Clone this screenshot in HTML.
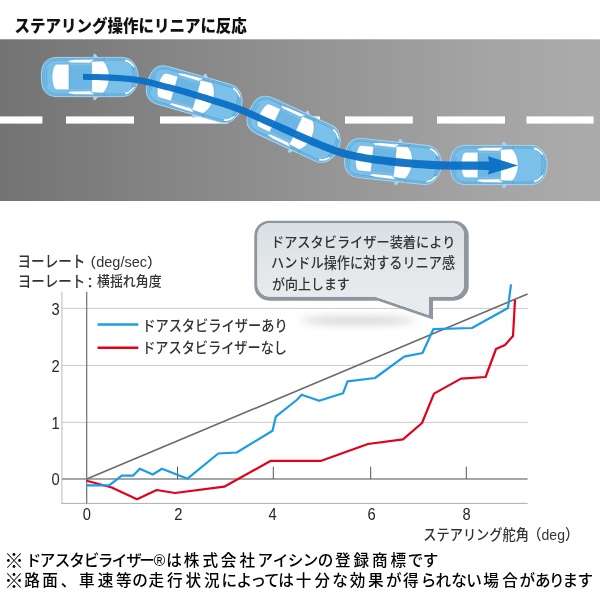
<!DOCTYPE html>
<html lang="ja"><head><meta charset="utf-8"><title>ステアリング操作にリニアに反応</title>
<style>
html,body{margin:0;padding:0;background:#fff;}
body{width:600px;height:600px;overflow:hidden;}
svg{display:block;}
text{font-family:"Liberation Sans","Noto Sans CJK JP",sans-serif;}
.g{fill:#333;}
</style></head><body>
<svg width="600" height="600" viewBox="0 0 600 600">
<defs>
<linearGradient id="road" x1="0" x2="1" y1="0" y2="0">
<stop offset="0" stop-color="#737373"/><stop offset="0.3" stop-color="#868686"/><stop offset="0.5" stop-color="#929292"/><stop offset="0.8" stop-color="#a4a4a4"/><stop offset="1" stop-color="#ababab"/>
</linearGradient>
<linearGradient id="bub" gradientUnits="userSpaceOnUse" x1="0" x2="0" y1="223" y2="297">
<stop offset="0" stop-color="#d9dfe3"/><stop offset="0.5" stop-color="#e2e6e9"/><stop offset="1" stop-color="#e8ebee"/>
</linearGradient>
<linearGradient id="bubR" gradientUnits="userSpaceOnUse" x1="257" x2="464" y1="0" y2="0">
<stop offset="0" stop-color="#b9c1c7"/><stop offset="0.2" stop-color="#d3d8dc"/><stop offset="0.42" stop-color="#f7f8f9"/><stop offset="0.8" stop-color="#ffffff"/><stop offset="1" stop-color="#eef0f2"/>
</linearGradient>
<clipPath id="bclip"><path d="M269.500 223.200H452A12 12 0 0 1 464 235.200V284.500A12 12 0 0 1 452 296.500H429V315L374.900 296.500H269.500A12 12 0 0 1 257.500 284.500V235.200A12 12 0 0 1 269.500 223.200Z"/></clipPath>
<linearGradient id="bubL" gradientUnits="userSpaceOnUse" x1="257.5" x2="266" y1="0" y2="0">
<stop offset="0" stop-color="#a3adb4"/><stop offset="0.55" stop-color="#b9c1c6" stop-opacity="0.8"/><stop offset="1" stop-color="#dfe3e6" stop-opacity="0"/>
</linearGradient>
<linearGradient id="bubT" gradientUnits="userSpaceOnUse" x1="0" x2="0" y1="223.2" y2="227">
<stop offset="0" stop-color="#aab3ba" stop-opacity="0.9"/><stop offset="1" stop-color="#dfe3e6" stop-opacity="0"/>
</linearGradient>
<filter id="blur" x="-20%" y="-100%" width="140%" height="300%"><feGaussianBlur stdDeviation="4"/></filter>
<g id="car">
<path d="M-48.4 0C-48.4 -5 -48 -8 -46.800 -11C-44.500 -17 -39.500 -19.600 -32 -19.600L32 -19.600C37 -19.600 40.500 -18 43.500 -14.500C46.800 -10.500 48.400 -5.500 48.400 0C48.400 5.500 46.800 10.500 43.500 14.500C40.500 18 37 19.600 32 19.600L-32 19.600C-39.500 19.600 -44.500 17 -46.800 11C-48 8 -48.400 5 -48.400 0Z" fill="#7bc0e8" stroke="#aedaf3" stroke-width="0.9"/>
<path d="M-47.300 0C-47.300 -5 -46.900 -7.800 -45.800 -10.600C-43.600 -16.200 -39 -18.600 -32 -18.600L31.800 -18.600C36.600 -18.600 39.900 -17.100 42.700 -13.800C45.800 -10 47.300 -5.300 47.300 0C47.300 5.300 45.800 10 42.700 13.800C39.900 17.100 36.600 18.600 31.800 18.600L-32 18.600C-39 18.600 -43.600 16.200 -45.800 10.600C-46.900 7.800 -47.300 5 -47.300 0Z" fill="none" stroke="#4d9bd0" stroke-width="0.45"/>
<path d="M3.8 -19.400L3.400 -22.400L5.600 -23.200L8.600 -19.400Z M3.800 19.400L3.400 22.400L5.600 23.200L8.600 19.400Z" fill="#a4d5f1"/>
<path d="M-45.500 0C-45.500 -4.500 -45.100 -7 -44 -9.600C-42 -14.800 -38 -17 -31.500 -17L31 -17C35.500 -17 38.500 -15.600 41.200 -12.600C44 -9.300 45.500 -5 45.500 0C45.500 5 44 9.300 41.200 12.600C38.500 15.600 35.500 17 31 17L-31.500 17C-38 17 -42 14.800 -44 9.600C-45.100 7 -45.500 4.500 -45.500 0Z" fill="none" stroke="#3f90c9" stroke-width="0.5"/>
<rect x="-21" y="-11.900" width="23.500" height="23.800" fill="#6db6e4"/>
<path d="M-20.800 -12.800L-32.500 -12.800Q-35.500 -12.500 -36.300 -9C-38.200 -3 -38.200 3 -36.300 9Q-35.500 12.500 -32.500 12.800L-20.800 12.800Z" fill="#fff" stroke="#4a97cd" stroke-width="0.4"/>
<path d="M2 -12.500L1.300 -15.500L13.500 -16C21.400 -8 21.400 8 13.500 16L1.300 15.500L2 12.500Z" fill="#fff" stroke="#4a97cd" stroke-width="0.4"/>
<path d="M-23 -16.300L-15 -17.400L5 -17.800L2 -15.600L0.500 -14L-19 -14.200Z M-23 16.300L-15 17.400L5 17.800L2 15.600L0.500 14L-19 14.200Z" fill="#fff" stroke="#4a97cd" stroke-width="0.4"/>
<path d="M35.500 -17.400C40 -16.500 43.300 -13.500 45 -9.800L42.600 -10.500C41.300 -13 38.800 -15 35.500 -15.600Z M35.500 17.400C40 16.500 43.300 13.500 45 9.800L42.600 10.500C41.300 13 38.800 15 35.500 15.600Z" fill="#fff"/>
<path d="M14.700 -19.500C14.600 -18.500 14.300 -17 13.800 -16 M14.700 19.500C14.600 18.500 14.300 17 13.800 16 M42.300 -11.500C43.500 -5 43.500 5 42.300 11.500 M-42.500 -8C-43.600 -3 -43.600 3 -42.500 8" fill="none" stroke="#3f90c9" stroke-width="0.5"/>
</g>
</defs>
<text transform="translate(14.54 32.35) scale(0.9269 1)" font-size="16.72" font-weight="900" fill="#111">ステアリング操作にリニアに反応</text>
<rect x="0" y="39.3" width="600" height="161.7" fill="url(#road)"/>
<rect x="-30" y="116.4" width="72.4" height="7.2" fill="#fff"/>
<rect x="66" y="116.4" width="68.0" height="7.2" fill="#fff"/>
<rect x="160" y="116.4" width="68.0" height="7.2" fill="#fff"/>
<rect x="252" y="116.4" width="68.0" height="7.2" fill="#fff"/>
<rect x="345" y="116.4" width="67.8" height="7.2" fill="#fff"/>
<rect x="437" y="116.4" width="68.0" height="7.2" fill="#fff"/>
<rect x="526.5" y="116.4" width="67.1" height="7.2" fill="#fff"/>
<use href="#car" transform="translate(89.75 77) rotate(0)"/>
<use href="#car" transform="translate(194.5 94.5) rotate(16)"/>
<use href="#car" transform="translate(294 129.5) rotate(25)"/>
<use href="#car" transform="translate(393 161.5) rotate(6)"/>
<use href="#car" transform="translate(498.7 165) rotate(0)"/>
<path d="M83.0 73.8 L87.6 73.9 L92.2 74.0 L96.8 74.1 L101.4 74.2 L105.9 74.3 L110.5 74.5 L115.1 74.8 L119.7 75.1 L124.3 75.4 L128.9 75.8 L133.6 76.3 L138.2 76.9 L142.9 77.7 L147.6 78.7 L152.2 79.8 L156.8 81.0 L161.4 82.2 L165.9 83.4 L170.5 84.5 L175.1 85.7 L179.7 86.9 L184.3 88.2 L188.9 89.5 L193.5 90.9 L198.0 92.3 L202.6 93.7 L207.2 95.1 L211.7 96.5 L216.3 97.9 L220.9 99.3 L225.5 100.7 L230.1 102.2 L234.7 103.8 L239.3 105.5 L244.0 107.3 L248.6 109.3 L253.2 111.3 L257.8 113.3 L262.4 115.4 L266.9 117.4 L271.5 119.5 L276.1 121.5 L280.6 123.5 L285.2 125.6 L289.8 127.6 L294.3 129.7 L298.9 131.7 L303.5 133.7 L308.0 135.7 L312.5 137.6 L317.1 139.6 L321.6 141.4 L326.2 143.3 L330.7 145.0 L335.2 146.7 L339.6 148.2 L344.1 149.6 L348.5 150.8 L353.0 151.8 L357.5 152.8 L362.0 153.6 L366.4 154.4 L371.0 155.1 L375.5 155.7 L380.0 156.3 L384.6 156.8 L389.1 157.3 L393.6 157.8 L398.2 158.3 L402.7 158.8 L407.2 159.2 L411.8 159.5 L416.3 159.9 L420.9 160.2 L425.4 160.5 L429.9 160.8 L434.5 161.0 L439.0 161.2 L443.5 161.3 L448.0 161.4 L452.5 161.4 L457.1 161.4 L461.6 161.4 L466.2 161.4 L470.7 161.4 L475.3 161.4 L479.9 161.4 L484.5 161.4 L489.1 161.5 L488.0 156.2 L518.0 165.5 L488.0 174.6 L488.9 169.9 L484.4 169.9 L479.9 169.8 L475.3 169.8 L470.8 169.8 L466.2 169.8 L461.6 169.8 L457.0 169.7 L452.5 169.7 L447.9 169.6 L443.3 169.5 L438.7 169.4 L434.1 169.1 L429.5 168.9 L424.9 168.6 L420.3 168.3 L415.7 167.9 L411.1 167.5 L406.5 167.1 L401.9 166.7 L397.4 166.2 L392.8 165.7 L388.2 165.2 L383.6 164.6 L379.0 164.0 L374.4 163.4 L369.8 162.7 L365.2 162.0 L360.6 161.2 L355.9 160.3 L351.3 159.3 L346.6 158.2 L342.0 156.9 L337.3 155.4 L332.6 153.8 L328.0 152.1 L323.4 150.2 L318.8 148.3 L314.2 146.4 L309.6 144.4 L305.1 142.5 L300.5 140.4 L295.9 138.4 L291.3 136.3 L286.8 134.3 L282.2 132.2 L277.7 130.1 L273.1 128.0 L268.6 126.0 L264.0 123.9 L259.4 121.8 L254.9 119.8 L250.4 117.7 L245.8 115.7 L241.3 113.8 L236.9 112.0 L232.4 110.4 L227.9 108.8 L223.4 107.3 L218.8 105.8 L214.3 104.4 L209.7 103.0 L205.2 101.5 L200.6 100.1 L196.1 98.7 L191.5 97.3 L187.0 95.9 L182.4 94.5 L177.9 93.2 L173.4 92.0 L168.9 90.8 L164.3 89.7 L159.7 88.5 L155.2 87.3 L150.6 86.1 L146.1 84.9 L141.7 84.0 L137.3 83.2 L132.8 82.6 L128.3 82.0 L123.8 81.6 L119.3 81.3 L114.8 81.0 L110.2 80.7 L105.7 80.5 L101.1 80.3 L96.6 80.1 L92.1 80.0 L87.5 79.9 L83.0 79.8Z" fill="#0a6fc4" fill-opacity="0.95"/>

<!-- chart -->
<g fill="none">
<path d="M62 308.4H527.6M62 365.4H527.6M62 422.4H527.6" stroke="#cbcbcb" stroke-width="1"/>
<path d="M61.4 503.4H527.6" stroke="#adadad" stroke-width="1"/><path d="M61.9 291.7V503.9" stroke="#c2c2c2" stroke-width="1.1"/>
<path d="M86.7 291.7V503.3" stroke="#6e6e6e" stroke-width="1.2"/>
<path d="M62 479H527.6" stroke="#8a8a8a" stroke-width="1.6"/>
<path d="M177.5 466.7V479M273.3 466.7V479M370.7 466.7V479M466.3 466.7V479" stroke="#555" stroke-width="1"/>
<path d="M86.7 479L527.6 294" stroke="#6a6a6a" stroke-width="1.6"/>
<polyline points="86.7,480.8 111.7,487.5 137.0,499.2 156.7,490.0 175.0,493.0 224.2,486.7 270.8,460.8 321.3,460.8 368.0,444.0 403.0,439.4 422.0,423.0 434.0,393.6 461.0,378.6 485.6,377.0 496.0,349.0 505.0,345.0 513.0,336.0 515.0,300.0" stroke="#e2001a" stroke-width="2.2" stroke-linejoin="round"/>
<polyline points="86.7,485.3 109.2,485.3 121.7,475.6 133.3,475.6 139.7,468.7 152.8,474.5 162.0,468.7 187.5,478.7 218.3,453.5 236.7,452.5 272.5,430.8 275.8,416.7 296.7,400.0 301.7,394.7 319.2,400.8 343.0,393.3 347.5,381.3 375.0,378.0 404.2,356.7 422.5,353.0 433.3,329.2 472.0,328.0 508.0,308.0 511.0,284.4" stroke="#1b9ce5" stroke-width="2.2" stroke-linejoin="round"/>
<path d="M97.5 324.5H138.3" stroke="#1b9ce5" stroke-width="2.4"/>
<path d="M97.5 347.8H138.3" stroke="#e2001a" stroke-width="2.4"/>
</g>
<g fill="#262626" font-size="16">
<text transform="translate(59.8 314.9) scale(0.92 1)" text-anchor="end">3</text><text transform="translate(59.8 371.9) scale(0.92 1)" text-anchor="end">2</text><text transform="translate(59.8 428.9) scale(0.92 1)" text-anchor="end">1</text><text transform="translate(59.8 485.3) scale(0.92 1)" text-anchor="end">0</text><text transform="translate(86.9 519.8) scale(0.92 1)" text-anchor="middle">0</text><text transform="translate(178.3 519.8) scale(0.92 1)" text-anchor="middle">2</text><text transform="translate(272.5 519.8) scale(0.92 1)" text-anchor="middle">4</text><text transform="translate(371.5 519.8) scale(0.92 1)" text-anchor="middle">6</text><text transform="translate(466.7 519.8) scale(0.92 1)" text-anchor="middle">8</text>
</g>
<g class="g">
<text transform="translate(17.51 267.48) scale(0.8354 1)" font-size="16.24" font-weight="500" >ヨーレート</text><text transform="translate(81.74 267.02) scale(1.048 1)" font-size="13.84" font-weight="500" >（deg/sec）</text>
<text transform="translate(17.68 286.5) scale(0.8522 1)" font-size="15.88" font-weight="500" >ヨーレート</text><text transform="translate(82.87 287.73) scale(1.0222 1)" font-size="14.3" font-weight="500" >：</text><text transform="translate(97.07 286.02) scale(0.91 1)" font-size="14.19" font-weight="500" >横揺れ角度</text>
<text transform="translate(142.16 330.98) scale(0.9026 1)" font-size="14.68" font-weight="500" >ドアスタビライザーあり</text>
<text transform="translate(142.18 352.98) scale(0.8977 1)" font-size="14.68" font-weight="500" >ドアスタビライザーなし</text>
<text transform="translate(423.34 540.08) scale(0.904 1)" font-size="14.61" font-weight="500" >ステアリング舵角</text><text transform="translate(527.5 540.33) scale(0.95 1)" font-size="14.78" font-weight="500" >（deg）</text>
</g>

<!-- bubble -->
<ellipse cx="358" cy="320.5" rx="58" ry="3.5" fill="#8e8e8e" opacity="0.45" filter="url(#blur)"/>
<path d="M269.3 220.7H453.700A15 15 0 0 1 468.700 235.700V285.700A15 15 0 0 1 453.700 300.700H433V319.500L378 300.700H269.300A15 15 0 0 1 254.300 285.700V235.700A15 15 0 0 1 269.300 220.700Z" fill="#8c979f"/>
<path id="bin" d="M269.500 223.200H452A12 12 0 0 1 464 235.200V284.500A12 12 0 0 1 452 296.500H429V315L374.900 296.500H269.500A12 12 0 0 1 257.500 284.500V235.200A12 12 0 0 1 269.500 223.200Z" fill="url(#bub)"/>
<path d="M255 320V292C300 288 400 270 466 250V320Z" fill="url(#bubR)" clip-path="url(#bclip)"/>
<use href="#bin" fill="url(#bubL)"/>
<use href="#bin" fill="url(#bubT)"/>
<g class="g">
<text transform="translate(270.94 246.82) scale(0.9393 1)" font-size="14.07" font-weight="500" >ドアスタビライザー装着により</text>
<text transform="translate(271.08 268.2) scale(0.9204 1)" font-size="14.29" font-weight="500" >ハンドル操作に対するリニア感</text>
<text transform="translate(272.01 289.38) scale(0.9138 1)" font-size="14.2" font-weight="500" >が向上します</text>
</g>

<!-- footnotes -->
<g fill="#000" font-size="15.6" font-weight="500" text-anchor="middle">
<text x="14" y="567.6" font-size="19.5">※</text><text x="33.5 47.5 62.5 77.0 91.5 105.5 119.5 134.0 147.0 159.4 174.0 191.6 210.2 228.5 247.2 265.2 280.5 295.5 310.5 325.5 342.8 361.3 379.8 398.2 415.5 430.5" y="566.3">ドアスタビライザー®は株式会社アイシンの登録商標です</text>
<text x="14" y="587.6" font-size="19.5">※</text><text x="32.0 50.0 68.5 86.7 105.6 123.9 140.0 156.3 174.8 193.2 211.7 229.4 244.4 258.2 271.8 286.0 303.5 322.2 340.0 357.5 375.9 393.8 410.9 428.5 443.4 459.0 474.0 491.1 510.0 527.4 542.7 556.8 570.3 585.3" y="586.3">路面、車速等の走行状況によっては十分な効果が得られない場合があります</text>
</g>
</svg>
</body></html>
